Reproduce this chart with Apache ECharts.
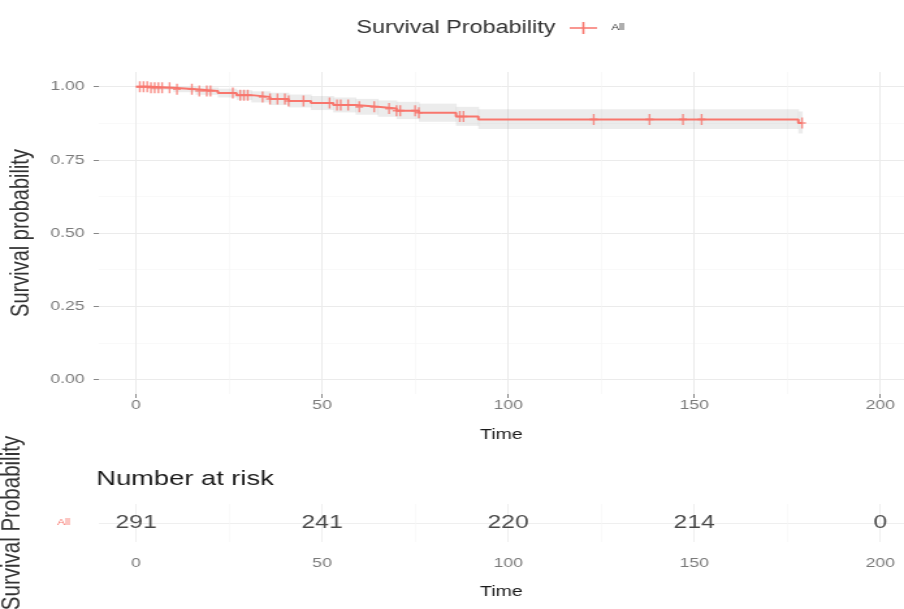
<!DOCTYPE html>
<html>
<head>
<meta charset="utf-8">
<script src="https://cdn.jsdelivr.net/npm/echarts@6/dist/echarts.min.js"></script>
<style>
html,body{margin:0;padding:0;background:#fff}
#wrap{width:904px;height:609px;overflow:hidden}
/* the reference is a horizontally stretched R plot, so draw narrower and stretch */
#main{width:695px;height:609px;transform:scaleX(1.30072);transform-origin:0 0}
</style>
</head>
<body>
<div id="wrap"><div id="main"></div></div>
<script>
// Kaplan-Meier steps (time, survival) + 95% band
var stepTimes = [0, 4, 10, 16, 22, 27, 31, 36, 41, 47, 53, 59, 65, 70, 76, 86, 92, 178];
var survival  = [1.0, 0.996, 0.991, 0.985, 0.978, 0.971, 0.965, 0.958, 0.951, 0.944, 0.937, 0.931, 0.925, 0.918, 0.911, 0.898, 0.888, 0.876];
var upperCI   = [1.0, 1.0, 1.0, 0.997, 0.993, 0.988, 0.984, 0.979, 0.973, 0.968, 0.963, 0.958, 0.953, 0.948, 0.942, 0.931, 0.923, 0.915];
var lowerCI   = [1.0, 0.989, 0.981, 0.972, 0.963, 0.954, 0.946, 0.937, 0.929, 0.920, 0.912, 0.904, 0.897, 0.889, 0.880, 0.866, 0.855, 0.840];
var endTime = 179;
var censorTimes = [1, 2, 3, 4, 5, 6, 7, 9, 11, 15, 17, 19, 20, 26, 28, 29, 30, 34, 36, 38, 40, 41, 45,
                   52, 54, 55, 57, 60, 64, 68, 70, 71, 75, 76, 87, 88, 123, 138, 147, 152, 179];

// risk table
var strata = ['All'];
var riskTimes = [0, 50, 100, 150, 200];
var riskCounts = [291, 241, 220, 214, 0];

var xTicks = [0, 50, 100, 150, 200];
var xMinor = [25, 75, 125, 175];
var yTicks = [0, 0.25, 0.5, 0.75, 1];
var yMinor = [0.125, 0.375, 0.625, 0.875];

var RED = '#F8766D';
var FONT = 'Liberation Sans';
var CROSS = 'path://M0,4.7h6v1.6h-6z M2.3,0h1.4v11h-1.4z';
var KEY = 'path://M0,5.2h21v1.6h-21z M9.7,0h1.6v12h-1.6z';

function survAt(t){
    var s = survival[0];
    for (var i = 0; i < stepTimes.length; i++) {
        if (stepTimes[i] <= t) s = survival[i];
    }
    return s;
}

var curve = stepTimes.map(function(t, i){ return [t, survival[i]]; });
curve.push([endTime, survival[survival.length - 1]]);

var band = stepTimes.map(function(t, i){
    var t2 = i < stepTimes.length - 1 ? stepTimes[i + 1] : endTime;
    return [t, t2, lowerCI[i], upperCI[i]];
});

var marks = censorTimes.map(function(t){ return [t, survAt(t)]; });
var riskData = riskTimes.map(function(t, i){ return [t, 1, riskCounts[i]]; });

function xAxisFor(gridIndex, values, color, width, opts){
    opts = opts || {};
    return {
        type: 'value', gridIndex: gridIndex, min: -10, max: 206.4,
        axisLine: {show: false, onZero: false},
        axisTick: {show: !!opts.ticks, customValues: values, length: 4, lineStyle: {color: '#888'}},
        axisLabel: {show: !!opts.labels, customValues: values, color: '#7a7a7a', fontSize: 13.5,
                    margin: opts.margin || 4, fontFamily: FONT},
        splitLine: {show: true, lineStyle: {color: color, width: width}},
        name: opts.labels ? 'Time' : '', nameLocation: 'middle', nameGap: opts.nameGap || 31,
        nameTextStyle: {color: '#1a1a1a', fontSize: 15, fontFamily: FONT}
    };
}

var chart = echarts.init(document.getElementById('main'));
chart.setOption({
    animation: false,
    backgroundColor: '#fff',
    title: [
        {text: 'Survival Probability', left: 274, top: 19, padding: 0,
         textStyle: {fontSize: 18, fontWeight: 'normal', color: '#333', fontFamily: FONT}},
        {text: 'Number at risk', left: 74, top: 469, padding: 0,
         textStyle: {fontSize: 21, fontWeight: 'normal', color: '#1a1a1a', fontFamily: FONT}}
    ],
    legend: {
        data: ['All'], left: 438, top: 22, padding: 0,
        icon: KEY, itemWidth: 21, itemHeight: 12,
        textStyle: {fontSize: 9, color: '#333', fontFamily: FONT, padding: [0, 0, 0, 6]}
    },
    grid: [
        {left: 76, top: 72, width: 619, height: 322, outerBoundsMode: 'none'},
        {left: 76, top: 504, width: 619, height: 38, outerBoundsMode: 'none'}
    ],
    xAxis: [
        xAxisFor(0, xTicks, '#ebebeb', 1, {ticks: true, labels: true, margin: 4, nameGap: 33}),
        xAxisFor(0, xMinor, '#f5f5f5', 0.6),
        xAxisFor(1, xTicks, '#efefef', 1, {ticks: false, labels: true, margin: 14, nameGap: 42}),
        xAxisFor(1, xMinor, '#f7f7f7', 0.6)
    ],
    yAxis: [
        {type: 'value', gridIndex: 0, min: -0.05, max: 1.05,
         axisLine: {show: false, onZero: false},
         axisTick: {show: true, customValues: yTicks, length: 4, lineStyle: {color: '#888'}},
         axisLabel: {customValues: yTicks, color: '#7a7a7a', fontSize: 13.5, margin: 11,
                     fontFamily: FONT,
                     formatter: function(v){ return v.toFixed(2); }},
         splitLine: {show: true, lineStyle: {color: '#ebebeb', width: 1}},
         name: 'Survival probability', nameLocation: 'middle', nameRotate: 90, nameGap: 50,
         nameTextStyle: {color: '#333', fontSize: 20, fontFamily: FONT}},
        {type: 'value', gridIndex: 0, min: -0.05, max: 1.05,
         axisLine: {show: false, onZero: false},
         axisTick: {show: false, customValues: yMinor},
         axisLabel: {show: false, customValues: yMinor},
         splitLine: {show: true, lineStyle: {color: '#f5f5f5', width: 0.6}}},
        {type: 'value', gridIndex: 1, min: 0, max: 2,
         axisLine: {show: false, onZero: false},
         axisTick: {show: false, customValues: [1]},
         axisLabel: {customValues: [1], color: RED, fontSize: 9, margin: 22,
                     fontFamily: FONT,
                     formatter: function(v){ return strata[v - 1] || ''; }},
         splitLine: {show: true, lineStyle: {color: '#efefef', width: 1}},
         name: 'Survival Probability', nameLocation: 'middle', nameRotate: 90, nameGap: 56,
         nameTextStyle: {color: '#333', fontSize: 20.5, fontFamily: FONT}}
    ],
    series: [
        {
            type: 'custom', name: 'band', xAxisIndex: 0, yAxisIndex: 0, silent: true, z: 1,
            data: band,
            renderItem: function(params, api){
                var p1 = api.coord([api.value(0), api.value(3)]);
                var p2 = api.coord([api.value(1), api.value(2)]);
                return {type: 'rect',
                        shape: {x: p1[0], y: p1[1], width: p2[0] - p1[0] + 0.5, height: p2[1] - p1[1]},
                        style: {fill: 'rgba(150,150,150,0.18)'}};
            }
        },
        {
            type: 'line', name: 'All', xAxisIndex: 0, yAxisIndex: 0, step: 'end',
            data: curve, showSymbol: false, z: 3,
            lineStyle: {color: RED, width: 2}, itemStyle: {color: RED}
        },
        {
            type: 'scatter', name: 'censor', xAxisIndex: 0, yAxisIndex: 0, z: 4,
            data: marks, symbol: CROSS, symbolSize: [6, 11],
            itemStyle: {color: RED}
        },
        {
            type: 'scatter', name: 'risk', xAxisIndex: 2, yAxisIndex: 2,
            data: riskData, symbolSize: 0,
            label: {show: true, position: 'inside', color: '#1a1a1a', fontSize: 19,
                    fontFamily: FONT,
                    formatter: function(p){ return p.value[2]; }}
        }
    ]
});
</script>
</body>
</html>
